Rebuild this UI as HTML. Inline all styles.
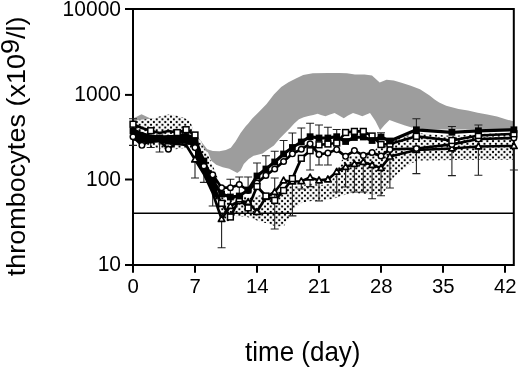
<!DOCTYPE html>
<html><head><meta charset="utf-8"><style>
html,body{margin:0;padding:0;background:#fff;width:520px;height:369px;overflow:hidden}
svg{display:block;will-change:transform}
text{font-family:"Liberation Sans",sans-serif}
</style></head><body>
<svg width="520" height="369" viewBox="0 0 520 369">
<polygon fill="#9d9d9d" points="133.0,118.5 134.6,117.7 141.5,114.2 150.0,118.2 160.0,119.0 175.0,120.0 190.0,126.0 200.0,140.0 207.2,149.3 212.9,150.9 219.4,151.3 225.9,150.1 230.8,147.7 235.7,141.2 240.6,133.0 245.5,126.5 248.7,123.0 252.0,118.8 259.3,111.5 266.6,104.1 273.9,94.4 281.2,87.0 288.5,82.2 295.9,78.5 303.2,74.9 312.8,73.3 328.0,72.9 339.3,72.9 346.9,73.3 355.0,74.5 364.5,74.5 372.0,75.4 379.7,82.5 386.5,79.8 393.8,80.5 401.5,82.8 410.8,85.8 420.0,89.3 425.0,92.5 429.6,95.5 434.6,99.5 439.2,102.5 446.2,105.8 458.5,109.0 468.0,110.4 477.7,112.7 487.3,114.6 497.0,116.5 506.5,119.4 513.3,121.3 513.3,129.5 440.0,129.5 423.8,129.5 415.8,126.9 411.7,127.6 405.0,125.6 397.0,122.7 389.5,120.0 384.5,125.0 380.1,130.3 375.4,121.0 370.0,113.0 366.4,114.5 362.3,116.2 357.7,114.5 353.0,113.0 348.0,115.5 343.8,118.2 339.0,115.5 334.6,113.0 330.0,114.5 325.4,116.2 321.0,115.0 317.7,113.8 313.2,115.0 308.4,115.9 303.7,117.3 299.0,119.2 294.2,123.5 289.5,128.7 284.7,133.4 280.0,138.2 273.9,145.6 266.6,150.5 262.6,153.5 253.6,155.8 248.7,159.0 243.8,164.0 240.6,170.5 237.3,172.9 234.0,171.3 229.2,168.8 222.7,167.2 216.2,164.8 211.3,160.7 208.0,152.6 200.0,148.0 190.0,140.0 175.0,135.0 133.0,130.0"/>
<defs><pattern id="dots" patternUnits="userSpaceOnUse" width="5.7" height="5.45" x="421.8" y="152"><circle cx="0" cy="2.725" r="1.15" fill="#000"/><circle cx="5.7" cy="2.725" r="1.15" fill="#000"/><circle cx="2.85" cy="0" r="1.15" fill="#000"/><circle cx="2.85" cy="5.45" r="1.15" fill="#000"/></pattern></defs>
<polygon fill="#fff" points="133.0,121.0 138.0,120.0 153.0,118.5 161.0,116.0 170.0,114.2 176.0,115.4 184.0,117.7 190.0,121.0 193.5,130.0 197.5,138.5 201.0,141.0 203.0,146.6 206.0,151.0 209.0,157.0 213.0,166.0 217.0,176.0 221.0,190.0 230.0,196.0 240.0,194.0 249.0,198.0 257.0,196.0 266.0,194.0 275.0,192.0 284.0,187.0 293.0,186.0 301.0,186.0 310.0,183.0 320.0,185.0 330.0,184.0 336.0,172.0 342.0,160.0 350.0,156.0 360.0,156.0 372.0,153.0 380.0,145.0 390.0,141.0 416.0,133.0 452.0,136.0 478.0,134.0 513.0,133.0 513.0,159.8 455.0,160.0 440.0,160.3 422.0,160.5 416.7,161.0 411.0,163.6 406.0,167.5 400.0,171.5 395.0,176.0 390.0,183.0 382.0,195.0 366.0,194.0 355.0,193.0 348.0,194.0 341.0,196.0 333.0,199.0 326.0,200.0 319.0,201.0 311.5,201.0 302.0,202.4 295.0,208.0 289.0,218.0 284.0,226.0 276.0,226.5 268.0,223.6 260.0,221.7 253.0,218.8 247.0,217.0 235.0,216.0 228.0,222.0 222.0,222.0 218.0,210.0 214.0,195.0 210.0,180.0 205.0,165.0 200.0,155.0 195.0,150.0 185.0,148.0 170.0,150.0 150.0,147.0 133.0,140.0"/>
<polygon fill="url(#dots)" points="133.0,121.0 138.0,120.0 153.0,118.5 161.0,116.0 170.0,114.2 176.0,115.4 184.0,117.7 190.0,121.0 193.5,130.0 197.5,138.5 201.0,141.0 203.0,146.6 206.0,151.0 209.0,157.0 213.0,166.0 217.0,176.0 221.0,190.0 230.0,196.0 240.0,194.0 249.0,198.0 257.0,196.0 266.0,194.0 275.0,192.0 284.0,187.0 293.0,186.0 301.0,186.0 310.0,183.0 320.0,185.0 330.0,184.0 336.0,172.0 342.0,160.0 350.0,156.0 360.0,156.0 372.0,153.0 380.0,145.0 390.0,141.0 416.0,133.0 452.0,136.0 478.0,134.0 513.0,133.0 513.0,159.8 455.0,160.0 440.0,160.3 422.0,160.5 416.7,161.0 411.0,163.6 406.0,167.5 400.0,171.5 395.0,176.0 390.0,183.0 382.0,195.0 366.0,194.0 355.0,193.0 348.0,194.0 341.0,196.0 333.0,199.0 326.0,200.0 319.0,201.0 311.5,201.0 302.0,202.4 295.0,208.0 289.0,218.0 284.0,226.0 276.0,226.5 268.0,223.6 260.0,221.7 253.0,218.8 247.0,217.0 235.0,216.0 228.0,222.0 222.0,222.0 218.0,210.0 214.0,195.0 210.0,180.0 205.0,165.0 200.0,155.0 195.0,150.0 185.0,148.0 170.0,150.0 150.0,147.0 133.0,140.0"/>
<path d="M133 213.2H514" stroke="#000" stroke-width="1.6"/>
<g stroke="#000" stroke-width="2" fill="none">
<path d="M125 9H513.8V265H125M133 9V272.8"/>
<path d="M195.0 265V272.8"/>
<path d="M257.0 265V272.8"/>
<path d="M319.0 265V272.8"/>
<path d="M381.0 265V272.8"/>
<path d="M443.0 265V272.8"/>
<path d="M505.0 265V272.8"/>
<path d="M125 94.9H133"/>
<path d="M125 179.5H133"/>
</g>
<path d="M230.4 197V179.3M226.4 179.3h8M248.1 190V177M244.1 177h8M257.0 176V163M253.0 163h8M265.9 169V155.7M261.9 155.7h8M274.7 162V151.3M270.7 151.3h8M283.6 154V140.5M279.6 140.5h8M292.4 147.5V133M288.4 133h8M301.3 142V128M297.3 128h8M310.1 136.7V123.2M306.1 123.2h8M319.0 138V125M315.0 125h8M327.9 138V127.3M323.9 127.3h8M336.7 136.7V129.5M332.7 129.5h8M381.0 137.5V132.7M377.0 132.7h8M416.4 129.8V118.8M412.4 118.8h8M451.9 132.3V126.5M447.9 126.5h8M478.4 130.8V125M474.4 125h8M239.3 198.8V177M235.3 177h8M274.7 200.4V178M270.7 178h8M133.0 124V118.8M129.0 118.8h8M133.0 136.7V145.4M129.0 145.4h8M150.7 140V147.5M146.7 147.5h8M159.6 141V152M155.6 152h8M195.0 159.5V178M191.0 178h8M203.9 174V182.4M199.9 182.4h8M212.7 193V206M208.7 206h8M221.6 219.5V247.7M217.6 247.7h8M274.7 200.4V229M270.7 229h8M292.4 178.6V215.9M288.4 215.9h8M301.3 181.3V189M297.3 189h8M319.0 180.4V201M315.0 201h8M336.7 171.7V192M332.7 192h8M345.6 167V187M341.6 187h8M354.4 164V192M350.4 192h8M363.3 162V192M359.3 192h8M372.1 165V198.8M368.1 198.8h8M381.0 167.9V195.8M377.0 195.8h8M389.9 156.6V188M385.9 188h8M416.4 150V173.6M412.4 173.6h8M451.9 148.5V175.6M447.9 175.6h8M478.4 146.5V175.2M474.4 175.2h8M513.9 146V170M509.9 170h8M310.1 143.8V170M306.1 170h8M310.1 177.5V186.6M306.1 186.6h8M319.0 154.4V165M315.0 165h8M327.9 153V165M323.9 165h8" stroke="#222" stroke-width="1.1" fill="none"/>
<polygon fill="#000" points="195.0,137.0 203.9,159.0 212.7,177.0 217.5,185.0 217.5,200.0 212.7,194.0 203.9,175.0 195.0,159.0"/>
<polygon fill="#000" points="133.0,128.0 141.9,132.0 150.7,134.5 159.6,135.5 168.4,135.0 177.3,135.0 186.1,132.5 195.0,138.0 195.0,146.0 186.1,144.0 177.3,143.0 168.4,143.5 159.6,141.5 150.7,140.5 141.9,142.0 133.0,139.0"/>
<polyline fill="none" stroke="#000" stroke-width="2.6" stroke-linejoin="round" points="133.0,139.0 141.9,141.0 150.7,142.0 159.6,141.0 168.4,143.0 177.3,144.0 186.1,145.0 195.0,159.5 203.9,174.0 212.7,193.0 221.6,219.0 230.4,206.0 239.3,201.0 248.1,202.0 257.0,212.0 265.9,197.0 274.7,192.0 283.6,180.5 292.4,181.5 301.3,181.3 310.1,177.5 319.0,180.4 327.9,179.4 336.7,171.7 345.6,167.0 354.4,164.0 363.3,162.0 372.1,165.0 381.0,167.9 389.9,156.6 416.4,150.0 451.9,148.5 478.4,146.5 513.9,146.0"/>
<polyline fill="none" stroke="#000" stroke-width="2.7" stroke-linejoin="round" points="133.0,136.7 141.9,145.3 150.7,140.0 159.6,141.0 168.4,149.2 177.3,142.0 186.1,140.0 195.0,147.6 203.9,166.0 212.7,174.8 221.6,187.7 230.4,187.7 239.3,184.5 248.1,190.5 257.0,183.0 265.9,175.4 274.7,169.0 283.6,161.5 292.4,153.8 301.3,149.2 310.1,143.8 319.0,154.4 327.9,153.0 336.7,149.6 345.6,156.3 354.4,150.6 363.3,155.4 372.1,152.5 381.0,156.0 389.9,149.4 416.4,148.5 451.9,144.4 478.4,139.0 513.9,138.0"/>
<polyline fill="none" stroke="#000" stroke-width="2.7" stroke-linejoin="round" points="133.0,124.2 141.9,128.0 150.7,130.7 159.6,133.0 168.4,131.0 177.3,132.6 186.1,129.7 195.0,135.0 203.9,166.0 212.7,186.0 221.6,203.3 230.4,217.0 239.3,198.8 248.1,207.9 257.0,186.5 265.9,196.0 274.7,200.4 283.6,190.5 292.4,178.6 301.3,158.3 310.1,150.7 319.0,144.8 327.9,144.0 336.7,143.0 345.6,132.5 354.4,131.4 363.3,131.4 372.1,136.0 381.0,144.5 389.9,144.0 416.4,136.3 451.9,140.5 478.4,135.5 513.9,133.8"/>
<polyline fill="none" stroke="#000" stroke-width="3.2" stroke-linejoin="round" points="133.0,131.0 141.9,137.0 150.7,140.0 159.6,138.0 168.4,141.0 177.3,140.0 186.1,138.0 195.0,141.0 203.9,161.0 212.7,181.0 221.6,194.0 230.4,197.0 239.3,196.0 248.1,190.0 257.0,176.0 265.9,169.0 274.7,162.0 283.6,154.0 292.4,147.5 301.3,142.0 310.1,136.7 319.0,138.0 327.9,138.0 336.7,136.7 345.6,141.5 354.4,137.5 363.3,137.0 372.1,140.5 381.0,137.0 389.9,141.0 416.4,129.8 451.9,132.3 478.4,130.8 513.9,129.8"/>
<path d="M195.0 156.1L198.2 161.9H191.8Z" fill="#fff" stroke="#000" stroke-width="1.7" stroke-linejoin="round"/><path d="M221.6 215.6L224.8 221.4H218.4Z" fill="#fff" stroke="#000" stroke-width="1.7" stroke-linejoin="round"/><path d="M230.4 202.6L233.6 208.4H227.2Z" fill="#fff" stroke="#000" stroke-width="1.7" stroke-linejoin="round"/><path d="M239.3 197.6L242.5 203.4H236.1Z" fill="#fff" stroke="#000" stroke-width="1.7" stroke-linejoin="round"/><path d="M248.1 198.6L251.3 204.4H244.9Z" fill="#fff" stroke="#000" stroke-width="1.7" stroke-linejoin="round"/><path d="M257.0 208.6L260.2 214.4H253.8Z" fill="#fff" stroke="#000" stroke-width="1.7" stroke-linejoin="round"/><path d="M265.9 193.6L269.1 199.4H262.7Z" fill="#fff" stroke="#000" stroke-width="1.7" stroke-linejoin="round"/><path d="M274.7 188.6L277.9 194.4H271.5Z" fill="#fff" stroke="#000" stroke-width="1.7" stroke-linejoin="round"/><path d="M283.6 177.1L286.8 182.9H280.4Z" fill="#fff" stroke="#000" stroke-width="1.7" stroke-linejoin="round"/><path d="M292.4 178.1L295.6 183.9H289.2Z" fill="#fff" stroke="#000" stroke-width="1.7" stroke-linejoin="round"/><path d="M301.3 177.9L304.5 183.7H298.1Z" fill="#fff" stroke="#000" stroke-width="1.7" stroke-linejoin="round"/><path d="M310.1 174.1L313.3 179.9H306.9Z" fill="#fff" stroke="#000" stroke-width="1.7" stroke-linejoin="round"/><path d="M319.0 177.0L322.2 182.8H315.8Z" fill="#fff" stroke="#000" stroke-width="1.7" stroke-linejoin="round"/><path d="M327.9 176.0L331.1 181.8H324.7Z" fill="#fff" stroke="#000" stroke-width="1.7" stroke-linejoin="round"/><path d="M336.7 168.3L339.9 174.1H333.5Z" fill="#fff" stroke="#000" stroke-width="1.7" stroke-linejoin="round"/><path d="M345.6 163.6L348.8 169.4H342.4Z" fill="#fff" stroke="#000" stroke-width="1.7" stroke-linejoin="round"/><path d="M354.4 160.6L357.6 166.4H351.2Z" fill="#fff" stroke="#000" stroke-width="1.7" stroke-linejoin="round"/><path d="M363.3 158.6L366.5 164.4H360.1Z" fill="#fff" stroke="#000" stroke-width="1.7" stroke-linejoin="round"/><path d="M372.1 161.6L375.3 167.4H368.9Z" fill="#fff" stroke="#000" stroke-width="1.7" stroke-linejoin="round"/><path d="M381.0 164.5L384.2 170.3H377.8Z" fill="#fff" stroke="#000" stroke-width="1.7" stroke-linejoin="round"/><path d="M389.9 153.2L393.1 159.0H386.7Z" fill="#fff" stroke="#000" stroke-width="1.7" stroke-linejoin="round"/><path d="M416.4 146.6L419.6 152.4H413.2Z" fill="#fff" stroke="#000" stroke-width="1.7" stroke-linejoin="round"/><path d="M451.9 145.1L455.1 150.9H448.7Z" fill="#fff" stroke="#000" stroke-width="1.7" stroke-linejoin="round"/><path d="M478.4 143.1L481.6 148.9H475.2Z" fill="#fff" stroke="#000" stroke-width="1.7" stroke-linejoin="round"/><path d="M513.9 142.6L517.1 148.4H510.7Z" fill="#fff" stroke="#000" stroke-width="1.7" stroke-linejoin="round"/>
<circle cx="133.0" cy="136.7" r="2.8" fill="#fff" stroke="#000" stroke-width="1.45"/><circle cx="141.9" cy="145.3" r="2.8" fill="#fff" stroke="#000" stroke-width="1.45"/><circle cx="168.4" cy="149.2" r="2.8" fill="#fff" stroke="#000" stroke-width="1.45"/><circle cx="195.0" cy="147.6" r="2.8" fill="#fff" stroke="#000" stroke-width="1.45"/><circle cx="203.9" cy="166.0" r="2.8" fill="#fff" stroke="#000" stroke-width="1.45"/><circle cx="212.7" cy="174.8" r="2.8" fill="#fff" stroke="#000" stroke-width="1.45"/><circle cx="221.6" cy="187.7" r="2.8" fill="#fff" stroke="#000" stroke-width="1.45"/><circle cx="230.4" cy="187.7" r="2.8" fill="#fff" stroke="#000" stroke-width="1.45"/><circle cx="239.3" cy="184.5" r="2.8" fill="#fff" stroke="#000" stroke-width="1.45"/><circle cx="248.1" cy="190.5" r="2.8" fill="#fff" stroke="#000" stroke-width="1.45"/><circle cx="257.0" cy="183.0" r="2.8" fill="#fff" stroke="#000" stroke-width="1.45"/><circle cx="265.9" cy="175.4" r="2.8" fill="#fff" stroke="#000" stroke-width="1.45"/><circle cx="274.7" cy="169.0" r="2.8" fill="#fff" stroke="#000" stroke-width="1.45"/><circle cx="283.6" cy="161.5" r="2.8" fill="#fff" stroke="#000" stroke-width="1.45"/><circle cx="292.4" cy="153.8" r="2.8" fill="#fff" stroke="#000" stroke-width="1.45"/><circle cx="301.3" cy="149.2" r="2.8" fill="#fff" stroke="#000" stroke-width="1.45"/><circle cx="310.1" cy="143.8" r="2.8" fill="#fff" stroke="#000" stroke-width="1.45"/><circle cx="319.0" cy="154.4" r="2.8" fill="#fff" stroke="#000" stroke-width="1.45"/><circle cx="327.9" cy="153.0" r="2.8" fill="#fff" stroke="#000" stroke-width="1.45"/><circle cx="336.7" cy="149.6" r="2.8" fill="#fff" stroke="#000" stroke-width="1.45"/><circle cx="345.6" cy="156.3" r="2.8" fill="#fff" stroke="#000" stroke-width="1.45"/><circle cx="354.4" cy="150.6" r="2.8" fill="#fff" stroke="#000" stroke-width="1.45"/><circle cx="363.3" cy="155.4" r="2.8" fill="#fff" stroke="#000" stroke-width="1.45"/><circle cx="372.1" cy="152.5" r="2.8" fill="#fff" stroke="#000" stroke-width="1.45"/><circle cx="381.0" cy="156.0" r="2.8" fill="#fff" stroke="#000" stroke-width="1.45"/><circle cx="389.9" cy="149.4" r="2.8" fill="#fff" stroke="#000" stroke-width="1.45"/><circle cx="416.4" cy="148.5" r="2.8" fill="#fff" stroke="#000" stroke-width="1.45"/><circle cx="451.9" cy="144.4" r="2.8" fill="#fff" stroke="#000" stroke-width="1.45"/><circle cx="478.4" cy="139.0" r="2.8" fill="#fff" stroke="#000" stroke-width="1.45"/><circle cx="513.9" cy="138.0" r="2.8" fill="#fff" stroke="#000" stroke-width="1.45"/>
<rect x="130.1" y="121.3" width="5.8" height="5.8" fill="#fff" stroke="#000" stroke-width="1.5"/><rect x="147.8" y="127.8" width="5.8" height="5.8" fill="#fff" stroke="#000" stroke-width="1.5"/><rect x="174.4" y="129.7" width="5.8" height="5.8" fill="#fff" stroke="#000" stroke-width="1.5"/><rect x="183.2" y="126.8" width="5.8" height="5.8" fill="#fff" stroke="#000" stroke-width="1.5"/><rect x="192.1" y="132.1" width="5.8" height="5.8" fill="#fff" stroke="#000" stroke-width="1.5"/><rect x="218.7" y="200.4" width="5.8" height="5.8" fill="#fff" stroke="#000" stroke-width="1.5"/><rect x="227.5" y="214.1" width="5.8" height="5.8" fill="#fff" stroke="#000" stroke-width="1.5"/><rect x="236.4" y="195.9" width="5.8" height="5.8" fill="#fff" stroke="#000" stroke-width="1.5"/><rect x="245.2" y="205.0" width="5.8" height="5.8" fill="#fff" stroke="#000" stroke-width="1.5"/><rect x="254.1" y="183.6" width="5.8" height="5.8" fill="#fff" stroke="#000" stroke-width="1.5"/><rect x="263.0" y="193.1" width="5.8" height="5.8" fill="#fff" stroke="#000" stroke-width="1.5"/><rect x="271.8" y="197.5" width="5.8" height="5.8" fill="#fff" stroke="#000" stroke-width="1.5"/><rect x="280.7" y="187.6" width="5.8" height="5.8" fill="#fff" stroke="#000" stroke-width="1.5"/><rect x="289.5" y="175.7" width="5.8" height="5.8" fill="#fff" stroke="#000" stroke-width="1.5"/><rect x="298.4" y="155.4" width="5.8" height="5.8" fill="#fff" stroke="#000" stroke-width="1.5"/><rect x="307.2" y="147.8" width="5.8" height="5.8" fill="#fff" stroke="#000" stroke-width="1.5"/><rect x="316.1" y="141.9" width="5.8" height="5.8" fill="#fff" stroke="#000" stroke-width="1.5"/><rect x="325.0" y="141.1" width="5.8" height="5.8" fill="#fff" stroke="#000" stroke-width="1.5"/><rect x="333.8" y="140.1" width="5.8" height="5.8" fill="#fff" stroke="#000" stroke-width="1.5"/><rect x="342.7" y="129.6" width="5.8" height="5.8" fill="#fff" stroke="#000" stroke-width="1.5"/><rect x="351.5" y="128.5" width="5.8" height="5.8" fill="#fff" stroke="#000" stroke-width="1.5"/><rect x="360.4" y="128.5" width="5.8" height="5.8" fill="#fff" stroke="#000" stroke-width="1.5"/><rect x="369.2" y="133.1" width="5.8" height="5.8" fill="#fff" stroke="#000" stroke-width="1.5"/><rect x="378.1" y="141.6" width="5.8" height="5.8" fill="#fff" stroke="#000" stroke-width="1.5"/><rect x="387.0" y="141.1" width="5.8" height="5.8" fill="#fff" stroke="#000" stroke-width="1.5"/><rect x="413.5" y="133.4" width="5.8" height="5.8" fill="#fff" stroke="#000" stroke-width="1.5"/><rect x="449.0" y="137.6" width="5.8" height="5.8" fill="#fff" stroke="#000" stroke-width="1.5"/><rect x="475.5" y="132.6" width="5.8" height="5.8" fill="#fff" stroke="#000" stroke-width="1.5"/><rect x="511.0" y="130.9" width="5.8" height="5.8" fill="#fff" stroke="#000" stroke-width="1.5"/>
<rect x="129.6" y="127.6" width="6.8" height="6.8" fill="#000"/><rect x="138.5" y="133.6" width="6.8" height="6.8" fill="#000"/><rect x="147.3" y="136.6" width="6.8" height="6.8" fill="#000"/><rect x="156.2" y="134.6" width="6.8" height="6.8" fill="#000"/><rect x="165.0" y="137.6" width="6.8" height="6.8" fill="#000"/><rect x="173.9" y="136.6" width="6.8" height="6.8" fill="#000"/><rect x="182.7" y="134.6" width="6.8" height="6.8" fill="#000"/><rect x="191.6" y="137.6" width="6.8" height="6.8" fill="#000"/><rect x="200.5" y="157.6" width="6.8" height="6.8" fill="#000"/><rect x="209.3" y="177.6" width="6.8" height="6.8" fill="#000"/><rect x="218.2" y="190.6" width="6.8" height="6.8" fill="#000"/><rect x="227.0" y="193.6" width="6.8" height="6.8" fill="#000"/><rect x="235.9" y="192.6" width="6.8" height="6.8" fill="#000"/><rect x="244.7" y="186.6" width="6.8" height="6.8" fill="#000"/><rect x="253.6" y="172.6" width="6.8" height="6.8" fill="#000"/><rect x="262.5" y="165.6" width="6.8" height="6.8" fill="#000"/><rect x="271.3" y="158.6" width="6.8" height="6.8" fill="#000"/><rect x="280.2" y="150.6" width="6.8" height="6.8" fill="#000"/><rect x="289.0" y="144.1" width="6.8" height="6.8" fill="#000"/><rect x="297.9" y="138.6" width="6.8" height="6.8" fill="#000"/><rect x="306.7" y="133.3" width="6.8" height="6.8" fill="#000"/><rect x="315.6" y="134.6" width="6.8" height="6.8" fill="#000"/><rect x="324.5" y="134.6" width="6.8" height="6.8" fill="#000"/><rect x="333.3" y="133.3" width="6.8" height="6.8" fill="#000"/><rect x="342.2" y="138.1" width="6.8" height="6.8" fill="#000"/><rect x="351.0" y="134.1" width="6.8" height="6.8" fill="#000"/><rect x="359.9" y="133.6" width="6.8" height="6.8" fill="#000"/><rect x="368.7" y="137.1" width="6.8" height="6.8" fill="#000"/><rect x="377.6" y="133.6" width="6.8" height="6.8" fill="#000"/><rect x="386.5" y="137.6" width="6.8" height="6.8" fill="#000"/><rect x="413.0" y="126.4" width="6.8" height="6.8" fill="#000"/><rect x="448.5" y="128.9" width="6.8" height="6.8" fill="#000"/><rect x="475.0" y="127.4" width="6.8" height="6.8" fill="#000"/><rect x="510.5" y="126.4" width="6.8" height="6.8" fill="#000"/>
<g font-size="22" text-anchor="end" fill="#000">
<text transform="translate(121,15.6) scale(0.955,1)">10000</text>
<text transform="translate(121,101.3) scale(0.955,1)">1000</text>
<text transform="translate(121,186) scale(0.955,1)">100</text>
<text transform="translate(121,271.3) scale(0.955,1)">10</text>
</g>
<g font-size="21" text-anchor="middle" fill="#000">
<text transform="translate(133.2,293.2) scale(0.97,1)">0</text>
<text transform="translate(195.2,293.2) scale(0.97,1)">7</text>
<text transform="translate(257.2,293.2) scale(0.97,1)">14</text>
<text transform="translate(319.2,293.2) scale(0.97,1)">21</text>
<text transform="translate(381.2,293.2) scale(0.97,1)">28</text>
<text transform="translate(443.2,293.2) scale(0.97,1)">35</text>
<text transform="translate(505.2,293.2) scale(0.97,1)">42</text>
</g>
<text transform="translate(245,361) scale(0.945,1)" font-size="27.5">time (day)</text>
<text transform="translate(25.2,276.2) rotate(-90) scale(1.047,1)" font-size="25.8">thrombocytes (x10<tspan dy="-6">9</tspan><tspan dy="6">/l)</tspan></text>
</svg>
</body></html>
